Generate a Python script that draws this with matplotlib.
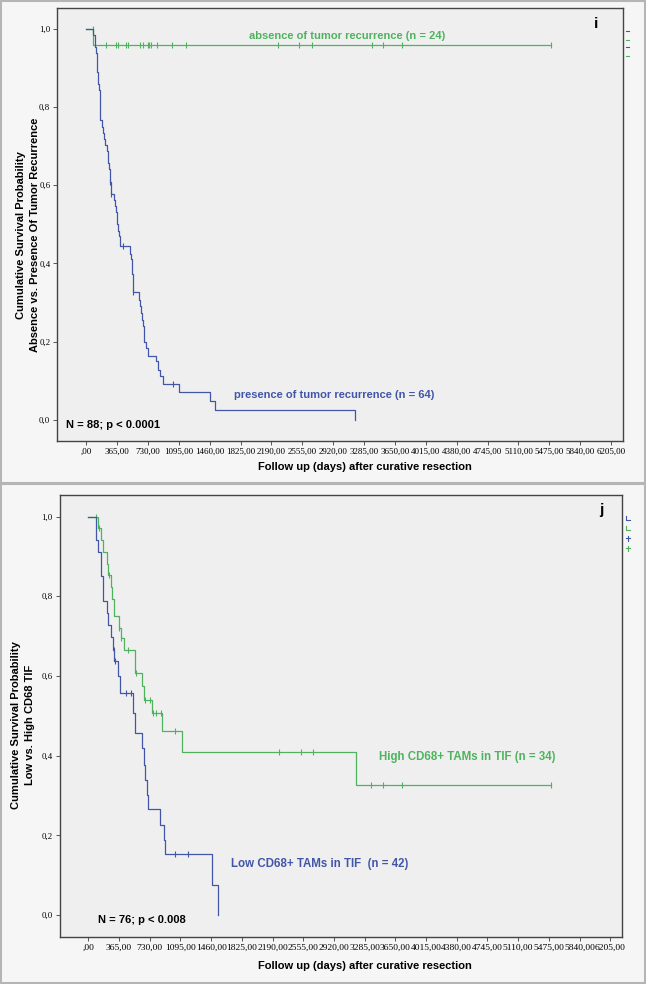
import numpy as np
import matplotlib
matplotlib.use("Agg")
import matplotlib.pyplot as plt
from matplotlib.lines import Line2D
from matplotlib.patches import Rectangle

# ---- panel i : absence vs presence of tumor recurrence ----
absent_t = [0, 80, 5494]
absent_s = [1.0, 0.958, 0.958]
absent_cens = [78, 233, 359, 375, 470, 501, 639, 667, 730, 746, 770, 844,
               1015, 1180, 2265, 2522, 2664, 3378, 3508, 3738, 5494]

present_t = [0, 85, 100, 107, 115, 125, 134, 145, 154, 160, 166, 193, 201, 210,
             221, 245, 255, 265, 272, 278, 284, 292, 332, 345, 355, 362, 368,
             373, 385, 402, 521, 528, 540, 548, 555, 560, 625, 640, 651, 660,
             670, 680, 690, 711, 726, 832, 850, 875, 905, 1101, 1468, 1527, 3181]
present_s = [1.0, 0.984, 0.969, 0.953, 0.938, 0.906, 0.891, 0.859, 0.844, 0.812,
             0.766, 0.750, 0.734, 0.719, 0.703, 0.688, 0.672, 0.656, 0.641,
             0.625, 0.609, 0.578, 0.562, 0.547, 0.531, 0.516, 0.500, 0.484,
             0.469, 0.445, 0.425, 0.410, 0.390, 0.373, 0.350, 0.328, 0.307,
             0.290, 0.273, 0.255, 0.239, 0.220, 0.200, 0.183, 0.164, 0.149,
             0.128, 0.111, 0.092, 0.071, 0.048, 0.024, 0.0]
present_cens = [285, 295, 442, 560, 1030]

# ---- panel j : low vs high CD68+ TAMs in TIF ----
high_t = [0, 121, 156, 180, 219, 239, 268, 285, 302, 366, 385, 424, 560, 640,
          668, 755, 873, 1114, 3180, 5497]
high_s = [1.0, 0.971, 0.941, 0.912, 0.882, 0.853, 0.824, 0.794, 0.750, 0.720,
          0.695, 0.666, 0.607, 0.575, 0.541, 0.507, 0.461, 0.409, 0.327, 0.327]
high_cens = [92, 125, 245, 366, 385, 473, 570, 677, 732, 775, 799, 863, 1034,
             2267, 2530, 2677, 3365, 3507, 3732, 5497]

low_t = [0, 92, 117, 155, 180, 219, 239, 268, 295, 305, 351, 375, 531, 558,
         643, 658, 677, 697, 707, 849, 897, 912, 1471, 1537]
low_s = [1.0, 0.940, 0.912, 0.850, 0.787, 0.758, 0.728, 0.699, 0.666, 0.637,
         0.599, 0.558, 0.507, 0.457, 0.420, 0.377, 0.339, 0.301, 0.267, 0.227,
         0.189, 0.153, 0.076, 0.0]
low_cens = [302, 315, 449, 512, 1034, 1190]

x_ticks = list(range(0, 6206, 365))
y_ticks = [0.0, 0.2, 0.4, 0.6, 0.8, 1.0]

BLUE = "#4256a8"
GREEN = "#4fb35e"
FW, FH = 646, 984


def surv_at(t, s, c):
    idx = np.searchsorted(t, c, side="right") - 1
    return [s[i] for i in idx]


def km(ax, t, s, cens, color):
    ax.step(t, s, where="post", color=color, lw=0.9)
    ax.plot(cens, surv_at(t, s, cens), ls="none", marker="|", ms=5,
            mew=0.8, color=color)


def style(ax, ylab, xlab_y, xtick_size):
    ax.set_facecolor("#efefef")
    ax.set_xlim(-340, 6345)
    ax.set_ylim(-0.054, 1.054)
    ax.set_xticks(x_ticks)
    ax.set_xticklabels([",00" if v == 0 else f"{v},00" for v in x_ticks],
                       fontsize=xtick_size, family="Liberation Serif")
    ax.set_yticks(y_ticks)
    ax.set_yticklabels([f"{v:.1f}".replace(".", ",") for v in y_ticks],
                       fontsize=6.3, family="Liberation Serif")
    ax.tick_params(length=3, width=0.7, color="#555555", pad=2)
    for sp in ax.spines.values():
        sp.set_color("#444444")
        sp.set_linewidth(1.0)
    ax.set_xlabel("Follow up (days) after curative resection", fontsize=8,
                  fontweight="bold", family="Liberation Sans", va="top")
    ax.xaxis.set_label_coords(0.543, xlab_y)
    ax.set_ylabel(ylab, fontsize=8, fontweight="bold",
                  family="Liberation Sans", linespacing=1.45)


fig = plt.figure(figsize=(FW / 100, FH / 100), dpi=100, facecolor="#f6f6f6")

ax1 = fig.add_axes([57.3 / FW, 1 - 440.7 / FH, 565.7 / FW, 432.7 / FH])
km(ax1, absent_t, absent_s, absent_cens, GREEN)
km(ax1, present_t, present_s, present_cens, BLUE)
style(ax1, "Cumulative Survival Probability\nAbsence vs. Presence Of Tumor Recurrence",
      -0.050, 6.5)
ax1.yaxis.set_label_coords(-0.031, 0.475)
ax1.text(1931, 0.982, "absence of tumor recurrence (n = 24)", color=GREEN,
         fontsize=8, fontweight="bold", family="Liberation Sans", va="center")
ax1.text(1753, 0.064, "presence of tumor recurrence (n = 64)", color=BLUE,
         fontsize=8, fontweight="bold", family="Liberation Sans", va="center")
ax1.text(-243, -0.015, "N = 88; p < 0.0001", color="black", fontsize=8,
         fontweight="bold", family="Liberation Sans", va="center")
ax1.text(6026, 1.012, "i", fontsize=11, fontweight="bold",
         family="Liberation Sans", va="center", ha="center")

ax2 = fig.add_axes([59.7 / FW, 1 - 936.7 / FH, 562.3 / FW, 441.7 / FH])
km(ax2, high_t, high_s, high_cens, GREEN)
km(ax2, low_t, low_s, low_cens, BLUE)
style(ax2, "Cumulative Survival Probability\nLow vs. High CD68 TIF", -0.054, 6.8)
ax2.yaxis.set_label_coords(-0.044, 0.479)
ax2.text(3454, 0.398, "High CD68+ TAMs in TIF (n = 34)", color=GREEN,
         fontsize=8.3, fontweight="bold", family="Liberation Sans", va="center")
ax2.text(1698, 0.129, "Low CD68+ TAMs in TIF  (n = 42)", color=BLUE,
         fontsize=8.3, fontweight="bold", family="Liberation Sans", va="center")
ax2.text(121, -0.012, "N = 76; p < 0.008", color="black", fontsize=8,
         fontweight="bold", family="Liberation Sans", va="center")
ax2.text(6098, 1.017, "j", fontsize=11, fontweight="bold",
         family="Liberation Sans", va="center", ha="center")


def fx(px):
    return px / FW


def fy(py):
    return 1 - py / FH


# grey frames around the two panels
for top, bot in [(1.0, 482.7), (483.5, 982.5)]:
    fig.add_artist(Rectangle((fx(1), fy(bot)), fx(644), (bot - top) / FH,
                             transform=fig.transFigure, fill=False,
                             ec="#b5b5b5", lw=1.5))

# clipped legend stubs at the right edge
for py, col in zip([31, 40, 47, 56], [BLUE, GREEN, BLUE, GREEN]):
    fig.add_artist(Line2D([fx(625.5), fx(628.5)], [fy(py), fy(py)],
                          transform=fig.transFigure, color=col, lw=0.8))
for i, (py, col) in enumerate(zip([520, 530, 538, 548], [BLUE, GREEN, BLUE, GREEN])):
    if i < 2:
        fig.add_artist(Line2D([fx(625.5), fx(625.5), fx(630)],
                              [fy(py - 4), fy(py), fy(py)],
                              transform=fig.transFigure, color=col, lw=0.8))
    else:
        fig.add_artist(Line2D([fx(625.5), fx(630)], [fy(py), fy(py)],
                              transform=fig.transFigure, color=col, lw=0.8))
        fig.add_artist(Line2D([fx(627.8), fx(627.8)], [fy(py - 2.5), fy(py + 2.5)],
                              transform=fig.transFigure, color=col, lw=0.8))

fig.savefig("out.png", dpi=100, facecolor=fig.get_facecolor())
